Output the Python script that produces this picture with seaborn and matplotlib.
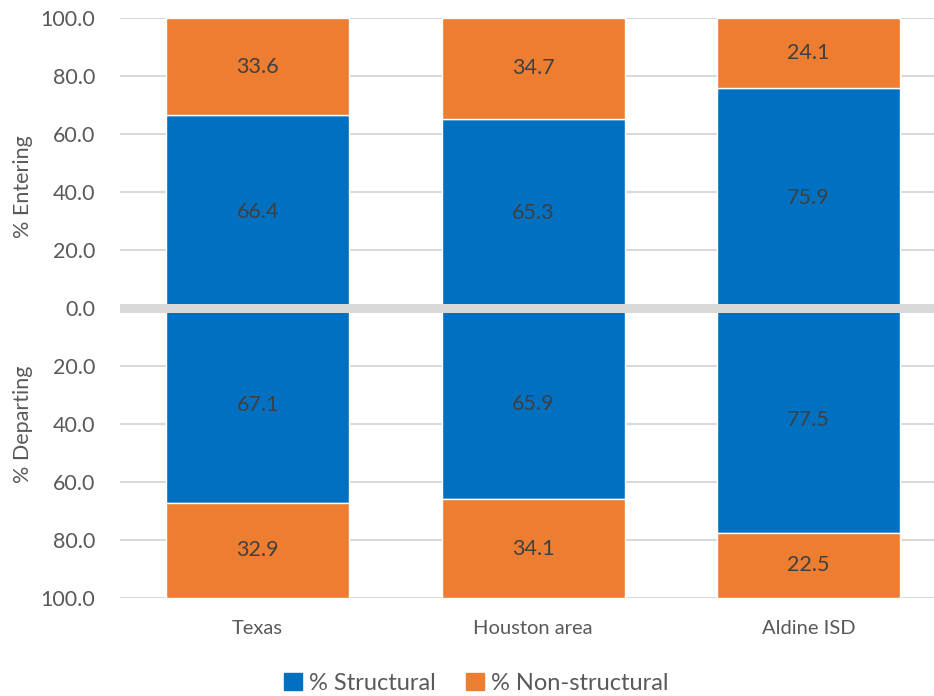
import pandas as pd
import matplotlib.pyplot as plt
import matplotlib.ticker as mticker
import seaborn as sns

# datos
regiones = ["Texas", "Houston area", "Aldine ISD"]
entra_struct = [66.4, 65.3, 75.9]
entra_nonstruct = [33.6, 34.7, 24.1]
sale_struct = [67.1, 65.9, 77.5]
sale_nonstruct = [32.9, 34.1, 22.5]

azul = "#0070C0"
naranja = "#ED7D31"

sns.set_theme(style="white")
plt.rcParams["font.family"] = ["Lato", "DejaVu Sans"]

fig = plt.figure(figsize=(9.34, 6.96), dpi=100)
ax = fig.add_axes([120 / 934, 1 - 598 / 696, 1 - 120 / 934, (598 - 18) / 696])

df = pd.DataFrame({
    "region": regiones,
    "e_s": entra_struct,
    "e_n": entra_nonstruct,
    "d_s": [-v for v in sale_struct],
    "d_n": [-v for v in sale_nonstruct],
})

w = 0.665
sns.barplot(data=df, x="region", y="e_s", color=azul, saturation=1, width=w, ax=ax, zorder=2)
sns.barplot(data=df, x="region", y="e_n", bottom=df["e_s"], color=naranja, saturation=1, width=w, ax=ax, zorder=2)
sns.barplot(data=df, x="region", y="d_s", color=azul, saturation=1, width=w, ax=ax, zorder=2)
sns.barplot(data=df, x="region", y="d_n", bottom=df["d_s"], color=naranja, saturation=1, width=w, ax=ax, zorder=2)

# etiquetas de valores
fs = 15.5
for i in range(len(regiones)):
    ax.text(i, entra_struct[i] / 2, f"{entra_struct[i]:.1f}", ha="center", va="center", fontsize=fs, color="#404040", zorder=4)
    ax.text(i, entra_struct[i] + entra_nonstruct[i] / 2, f"{entra_nonstruct[i]:.1f}", ha="center", va="center", fontsize=fs, color="#404040", zorder=4)
    ax.text(i, -sale_struct[i] / 2, f"{sale_struct[i]:.1f}", ha="center", va="center", fontsize=fs, color="#404040", zorder=4)
    ax.text(i, -sale_struct[i] - sale_nonstruct[i] / 2, f"{sale_nonstruct[i]:.1f}", ha="center", va="center", fontsize=fs, color="#404040", zorder=4)

ax.set_ylim(-100, 100)
ax.set_xlim(-0.5, 2.455)
ax.set_yticks(range(-100, 101, 20))
ax.yaxis.set_major_formatter(mticker.FuncFormatter(lambda v, p: f"{abs(v):.1f}"))
ax.yaxis.grid(True, color="#D9D9D9", linewidth=1.5, zorder=0)
ax.set_axisbelow(True)
ax.axhline(0, color="#D9D9D9", linewidth=6.5, zorder=3)
for s in ax.spines.values():
    s.set_visible(False)
ax.tick_params(axis="y", labelsize=fs, labelcolor="#595959", length=0, pad=18)
ax.tick_params(axis="x", labelsize=14.5, labelcolor="#595959", length=0, pad=16)
ax.set_xlabel("")
ax.set_ylabel("")

tr = ax.get_yaxis_transform()
ax.text(-0.119, 42, "% Entering", transform=tr, rotation=90, ha="center", va="center", fontsize=fs, color="#595959")
ax.text(-0.119, -40, "% Departing", transform=tr, rotation=90, ha="center", va="center", fontsize=fs, color="#595959")

# leyenda
handles = [plt.Rectangle((0, 0), 1, 1, color=azul), plt.Rectangle((0, 0), 1, 1, color=naranja)]
fig.legend(handles, ["% Structural", "% Non-structural"], loc="center", bbox_to_anchor=(0.51, 1 - 683 / 696),
           ncol=2, frameon=False, fontsize=17, labelcolor="#595959", handlelength=0.75, handleheight=0.75,
           handletextpad=0.3, columnspacing=1.3)

fig.savefig("out.png", dpi=100)
